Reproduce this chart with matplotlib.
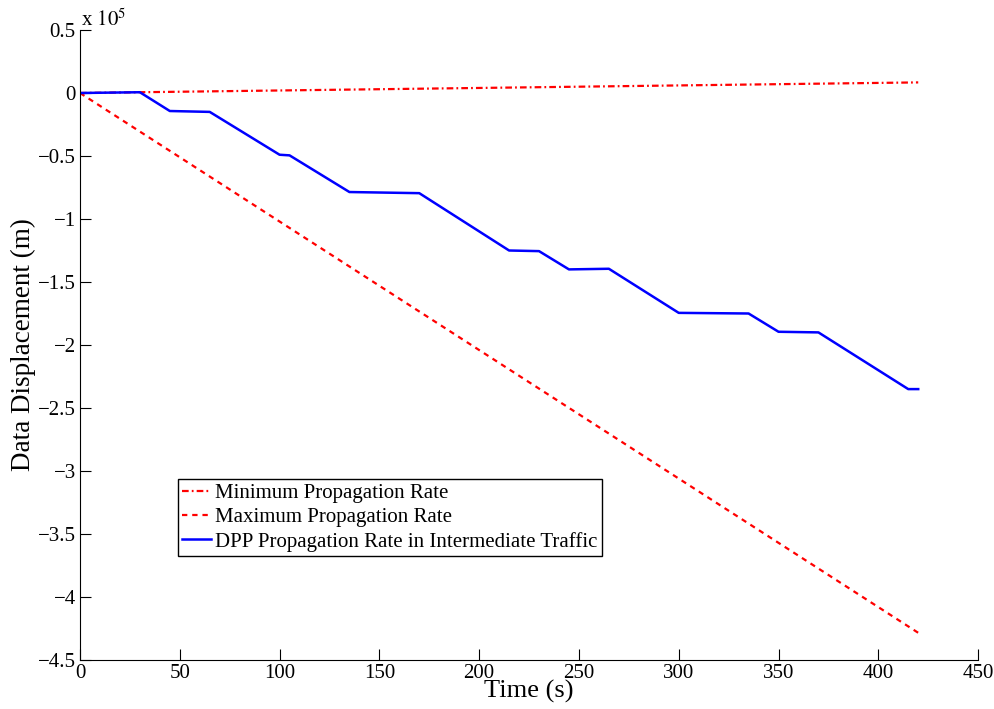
import matplotlib
matplotlib.use('Agg')
import matplotlib.pyplot as plt
from matplotlib.ticker import FuncFormatter

plt.rcParams['font.family'] = ['Liberation Serif', 'DejaVu Serif']
plt.rcParams['mathtext.fontset'] = 'stix'

# data (m vs s)
t_min = [0, 420]
d_min = [0, 8400]

t_max = [0, 420]
d_max = [0, -428400]

t_dpp = [0, 30, 45, 65, 100, 105, 135, 170, 215, 230, 245, 265, 300, 335, 350, 370, 415, 420]
d_dpp = [0, 600, -14300, -15000, -49000, -49500, -78600, -79500, -125000, -125500,
         -140000, -139500, -174500, -175000, -189500, -190000, -235000, -235000]

labels = ['Minimum Propagation Rate', 'Maximum Propagation Rate',
          'DPP Propagation Rate in Intermediate Traffic']

fig = plt.figure(figsize=(9.95, 7.09), dpi=100)
ax = fig.add_axes([0.0804, 0.0691, 0.9026, 0.8886])

ax.plot(t_min, d_min, color='red', lw=1.6, linestyle=(0, (3, 1.4, 0.8, 1.4)), label=labels[0])
ax.plot(t_max, d_max, color='red', lw=1.6, linestyle=(0, (2.4, 2.2)), label=labels[1])
ax.plot(t_dpp, d_dpp, color='blue', lw=1.8, label=labels[2])

ax.set_xlim(0, 450)
ax.set_ylim(-4.5e5, 0.5e5)
ax.set_xticks(range(0, 451, 50))
ax.set_yticks([v * 0.5e5 for v in range(-9, 2)])
ax.yaxis.set_major_formatter(FuncFormatter(
    lambda v, p: ('%g' % (v / 1e5)).replace('-', '\u2212')))

for s in ['top', 'right']:
    ax.spines[s].set_visible(False)
ax.tick_params(direction='in', length=8, labelsize=15, pad=3)

ax.set_xlabel('Time (s)', fontsize=19, labelpad=-2)
ax.set_ylabel('Data Displacement (m)', fontsize=19.5, labelpad=1)
ax.text(0.001, 1.007, r'x $10^5$', transform=ax.transAxes, fontsize=15,
        ha='left', va='baseline')

leg = ax.legend(loc='upper left', bbox_to_anchor=(0.109, 0.287), fontsize=15,
                fancybox=False, edgecolor='black', framealpha=1,
                handlelength=1.4, handletextpad=0.2, borderpad=0.2,
                labelspacing=0.22, borderaxespad=0)
leg.get_frame().set_linewidth(1.0)

fig.savefig('out.png', dpi=100)
